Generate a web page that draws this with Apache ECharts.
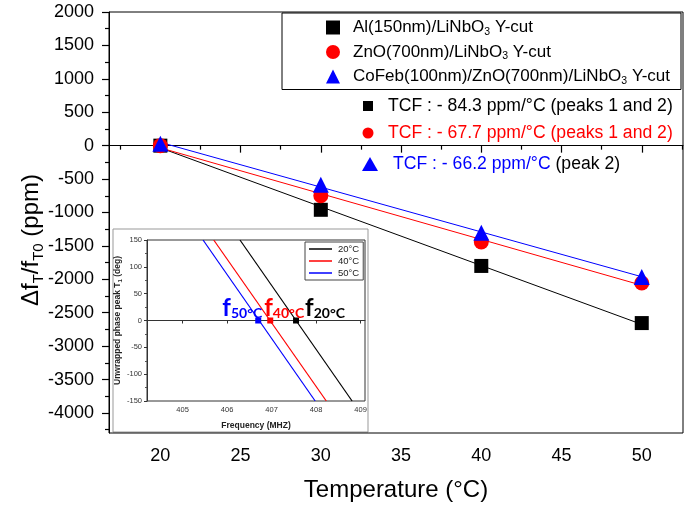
<!DOCTYPE html>
<html>
<head>
<meta charset="utf-8">
<script src="https://cdn.jsdelivr.net/npm/echarts@6/dist/echarts.min.js"></script>
<style>
html, body { margin: 0; padding: 0; background: #fff; }
#chart { width: 699px; height: 508px; }
</style>
</head>
<body>
<div id="chart"></div>
<script>
// main plot data
const temps = [20, 30, 40, 50];
const alValues = [0, -960, -1800, -2655];
const znoValues = [0, -750, -1440, -2055];
const cofebValues = [30, -585, -1305, -1965];
const seriesNames = [
    'Al(150nm)/LiNbO3 Y-cut',
    'ZnO(700nm)/LiNbO3 Y-cut',
    'CoFeb(100nm)/ZnO(700nm)/LiNbO3 Y-cut'
];
const tcfLabels = ['TCF : - 84.3 ppm/°C (peaks 1 and 2)', 'TCF : - 67.7 ppm/°C (peaks 1 and 2)', 'TCF : - 66.2 ppm/°C'];

const xMajorTicks = [20, 25, 30, 35, 40, 45, 50];
const xMinorTicks = [17.5, 22.5, 27.5, 32.5, 37.5, 42.5, 47.5, 52.5];
const yMajorTicks = [-4000, -3500, -3000, -2500, -2000, -1500, -1000, -500, 0, 500, 1000, 1500, 2000];
const yMinorTicks = [-4250, -3750, -3250, -2750, -2250, -1750, -1250, -750, -250, 250, 750, 1250, 1750];

// inset data
const insetNames = ['20°C', '40°C', '50°C'];
const insetPhase = [150, -150];
const insetFreq20 = [406.29, 408.81];
const insetFreq40 = [405.70, 408.23];
const insetFreq50 = [405.46, 407.98];
const insetCross = [407.55, 406.97, 406.70];
const insetFreqTicks = [405, 406, 407, 408, 409];

const FONT = '"Liberation Sans", Arial, sans-serif';
const BOLDF = 'Lato, "Open Sans", sans-serif';
const BLACK = '#000000', RED = '#ff0000', BLUE = '#0000ff';

const fitLine = ys => {
    const n = temps.length;
    const mx = temps.reduce((a, b) => a + b, 0) / n;
    const my = ys.reduce((a, b) => a + b, 0) / n;
    let sxy = 0, sxx = 0;
    temps.forEach((t, i) => {
        sxy += (t - mx) * (ys[i] - my);
        sxx += (t - mx) * (t - mx);
    });
    const k = sxy / sxx;
    const x0 = temps[0], x1 = temps[n - 1];
    return [[x0, my + k * (x0 - mx)], [x1, my + k * (x1 - mx)]];
};

const sub3 = name => {
    const parts = name.split('LiNbO3');
    return '{a|' + parts[0] + 'LiNbO}{s|3}{a|' + parts[1] + '}';
};

const pairs = (xs, ys) => xs.map((x, i) => [x, ys[i]]);

const chart = echarts.init(document.getElementById('chart'));

const option = {
    animation: false,
    backgroundColor: '#fff',
    textStyle: { fontFamily: FONT },
    grid: [
        { left: 109, right: 16, top: 12, bottom: 75, show: true, borderColor: BLACK, borderWidth: 1, backgroundColor: 'transparent' },
        { left: 147, top: 240, width: 218, height: 161, show: true, borderColor: '#333', borderWidth: 1, backgroundColor: '#fff' }
    ],
    xAxis: [
        {
            type: 'value', gridIndex: 0, min: 16.8, max: 52.57, position: 'bottom',
            axisLine: { lineStyle: { color: BLACK, width: 1 } },
            axisTick: { customValues: xMajorTicks, length: 7, inside: false, lineStyle: { color: BLACK, width: 1.2 } },
            axisLabel: { customValues: xMajorTicks, fontSize: 18, color: BLACK, margin: 14, fontFamily: FONT },
            splitLine: { show: false },
            name: 'Temperature (°C)', nameLocation: 'middle', nameGap: 45,
            nameTextStyle: { fontSize: 24, color: BLACK, fontFamily: FONT }
        },
        {
            type: 'value', gridIndex: 0, min: 16.8, max: 52.57, position: 'bottom',
            axisLine: { show: false },
            axisTick: { customValues: xMinorTicks, length: 4, inside: false, lineStyle: { color: BLACK, width: 1.2 } },
            axisLabel: { show: false },
            splitLine: { show: false }
        },
        {
            type: 'value', gridIndex: 1, min: 404.2, max: 409.1,
            axisLine: { lineStyle: { color: '#333' } },
            axisTick: { customValues: insetFreqTicks, length: 3, lineStyle: { color: '#333' } },
            axisLabel: { customValues: insetFreqTicks, fontSize: 7.5, color: '#333', margin: 5 },
            splitLine: { show: false },
            name: 'Frequency (MHZ)', nameLocation: 'middle', nameGap: 20,
            nameTextStyle: { fontSize: 8.5, fontWeight: 'bold', color: '#222' }
        }
    ],
    yAxis: [
        {
            type: 'value', gridIndex: 0, min: -4300, max: 2000,
            axisLine: { show: true, lineStyle: { color: BLACK, width: 1 } },
            axisTick: { show: true, customValues: yMajorTicks, length: 7, inside: false, lineStyle: { color: BLACK, width: 1.2 } },
            axisLabel: { customValues: yMajorTicks, fontSize: 18, color: BLACK, margin: 15, fontFamily: FONT, formatter: v => String(v) },
            splitLine: { show: false }
        },
        {
            type: 'value', gridIndex: 0, min: -4300, max: 2000, position: 'left',
            axisLine: { show: false },
            axisTick: { show: true, customValues: yMinorTicks, length: 4, inside: false, lineStyle: { color: BLACK, width: 1.2 } },
            axisLabel: { show: false },
            splitLine: { show: false }
        },
        {
            type: 'value', gridIndex: 1, min: -150, max: 150, interval: 50,
            axisLine: { show: true, lineStyle: { color: '#333' } },
            axisTick: { show: true, length: 3, lineStyle: { color: '#333' } },
            minorTick: { show: true, splitNumber: 2, length: 2, lineStyle: { color: '#555' } },
            axisLabel: { fontSize: 7.5, color: '#333', margin: 5, formatter: v => String(v) },
            splitLine: { show: false },
            name: '{t|Unwrapped phase peak T}{s|1}{t| (deg)}', nameLocation: 'middle', nameGap: 20, nameRotate: 90,
            nameTextStyle: {
                color: '#222',
                rich: {
                    t: { fontSize: 8.5, fontWeight: 'bold', lineHeight: 11, color: '#222' },
                    s: { fontSize: 6, fontWeight: 'bold', lineHeight: 6, verticalAlign: 'bottom', color: '#222' }
                }
            }
        }
    ],
    legend: [
        {
            data: seriesNames,
            orient: 'vertical',
            left: 282, top: 13,
            padding: [6, 11, 3, 44],
            itemWidth: 14, itemHeight: 14, itemGap: 6,
            borderColor: BLACK, borderWidth: 1,
            backgroundColor: '#fff',
            selectedMode: false,
            formatter: sub3,
            textStyle: {
                padding: [0, 0, 0, 8],
                rich: {
                    a: { fontSize: 17, lineHeight: 20, color: BLACK, fontFamily: FONT },
                    s: { fontSize: 10.5, lineHeight: 10, verticalAlign: 'bottom', color: BLACK, fontFamily: FONT }
                }
            }
        },
        {
            data: insetNames,
            orient: 'vertical',
            left: 305, top: 242,
            padding: [2, 4, 2, 4],
            itemWidth: 23, itemHeight: 1.5, itemGap: 2,
            icon: 'rect',
            borderColor: '#444', borderWidth: 1,
            backgroundColor: '#fff',
            selectedMode: false,
            textStyle: { fontSize: 9.5, color: '#222', padding: [0, 0, 0, 1] }
        }
    ],
    graphic: [
        {
            type: 'rect', z: -1,
            shape: { x: 113, y: 229, width: 255, height: 203 },
            style: { fill: '#fff', stroke: '#999', lineWidth: 1 }
        },
        {
            type: 'text', x: 31, y: 240, rotation: Math.PI / 2,
            style: {
                text: '{m|Δf}{s|T}{m|/f}{s|T0}{m| (ppm)}',
                align: 'center', verticalAlign: 'middle',
                rich: {
                    m: { fontSize: 24, lineHeight: 30, fill: BLACK, fontFamily: FONT },
                    s: { fontSize: 15, lineHeight: 15, verticalAlign: 'bottom', fill: BLACK, fontFamily: FONT }
                }
            }
        },
        {
            type: 'rect', shape: { x: 363, y: 101, width: 10, height: 10 }, style: { fill: BLACK }
        },
        {
            type: 'text', x: 388, y: 106,
            style: { text: tcfLabels[0], fill: BLACK, fontSize: 17.6, fontFamily: FONT, verticalAlign: 'middle' }
        },
        {
            type: 'circle', shape: { cx: 368, cy: 133, r: 5.5 }, style: { fill: RED }
        },
        {
            type: 'text', x: 388, y: 133,
            style: { text: tcfLabels[1], fill: RED, fontSize: 17.6, fontFamily: FONT, verticalAlign: 'middle' }
        },
        {
            type: 'polygon', shape: { points: [[370, 157], [362, 171], [378, 171]] }, style: { fill: BLUE }
        },
        {
            type: 'text', x: 393, y: 164,
            style: {
                text: '{b|' + tcfLabels[2] + '}{k| (peak 2)}',
                verticalAlign: 'middle',
                rich: {
                    b: { fontSize: 17.6, fill: BLUE, fontFamily: FONT },
                    k: { fontSize: 17.6, fill: BLACK, fontFamily: FONT }
                }
            }
        }
    ],
    series: [
        {
            type: 'line', xAxisIndex: 0, yAxisIndex: 0, data: fitLine(alValues),
            symbol: 'none', silent: true, lineStyle: { color: BLACK, width: 1 }, z: 1
        },
        {
            type: 'line', xAxisIndex: 0, yAxisIndex: 0, data: fitLine(znoValues),
            symbol: 'none', silent: true, lineStyle: { color: RED, width: 1 }, z: 1
        },
        {
            type: 'line', xAxisIndex: 0, yAxisIndex: 0, data: fitLine(cofebValues),
            symbol: 'none', silent: true, lineStyle: { color: BLUE, width: 1 }, z: 1
        },
        {
            name: seriesNames[0], type: 'scatter', xAxisIndex: 0, yAxisIndex: 0,
            data: pairs(temps, alValues), symbol: 'rect', symbolSize: 14, itemStyle: { color: BLACK, opacity: 1 }
        },
        {
            name: seriesNames[1], type: 'scatter', xAxisIndex: 0, yAxisIndex: 0,
            data: pairs(temps, znoValues), symbol: 'circle', symbolSize: 15, itemStyle: { color: RED, opacity: 1 }
        },
        {
            name: seriesNames[2], type: 'scatter', xAxisIndex: 0, yAxisIndex: 0,
            data: pairs(temps, cofebValues), symbol: 'triangle', symbolSize: 16, itemStyle: { color: BLUE, opacity: 1 }
        },
        // inset
        {
            name: insetNames[0], type: 'line', xAxisIndex: 2, yAxisIndex: 2,
            data: pairs(insetFreq20, insetPhase), symbol: 'none', lineStyle: { color: BLACK, width: 1.2 },
            itemStyle: { color: BLACK },
            markLine: {
                silent: true, symbol: 'none', label: { show: false },
                lineStyle: { color: '#333', width: 1, type: 'solid' },
                data: [{ yAxis: 0 }]
            }
        },
        {
            name: insetNames[1], type: 'line', xAxisIndex: 2, yAxisIndex: 2,
            data: pairs(insetFreq40, insetPhase), symbol: 'none', lineStyle: { color: RED, width: 1.2 },
            itemStyle: { color: RED }
        },
        {
            name: insetNames[2], type: 'line', xAxisIndex: 2, yAxisIndex: 2,
            data: pairs(insetFreq50, insetPhase), symbol: 'none', lineStyle: { color: BLUE, width: 1.2 },
            itemStyle: { color: BLUE }
        },
        {
            type: 'scatter', xAxisIndex: 2, yAxisIndex: 2, symbol: 'rect', symbolSize: 6, z: 5,
            itemStyle: { opacity: 1 },
            label: {
                show: true,
                rich: {
                    f: { fontSize: 24, fontWeight: 'bold', lineHeight: 24, fontFamily: BOLDF },
                    s: { fontSize: 14, fontWeight: 'bold', lineHeight: 14, verticalAlign: 'bottom', fontFamily: BOLDF }
                }
            },
            data: [
                {
                    value: [insetCross[0], 0], itemStyle: { color: BLACK },
                    label: { formatter: '{f|f}{s|20°C}', color: BLACK, position: [12, 3], align: 'left', verticalAlign: 'bottom' }
                },
                {
                    value: [insetCross[1], 0], itemStyle: { color: RED },
                    label: { formatter: '{f|f}{s|40°C}', color: RED, position: [-3, 3], align: 'left', verticalAlign: 'bottom' }
                },
                {
                    value: [insetCross[2], 0], itemStyle: { color: BLUE },
                    label: { formatter: '{f|f}{s|50°C}', color: BLUE, position: [7, 3], align: 'right', verticalAlign: 'bottom' }
                }
            ]
        }
    ]
};

chart.setOption(option);
</script>
</body>
</html>
